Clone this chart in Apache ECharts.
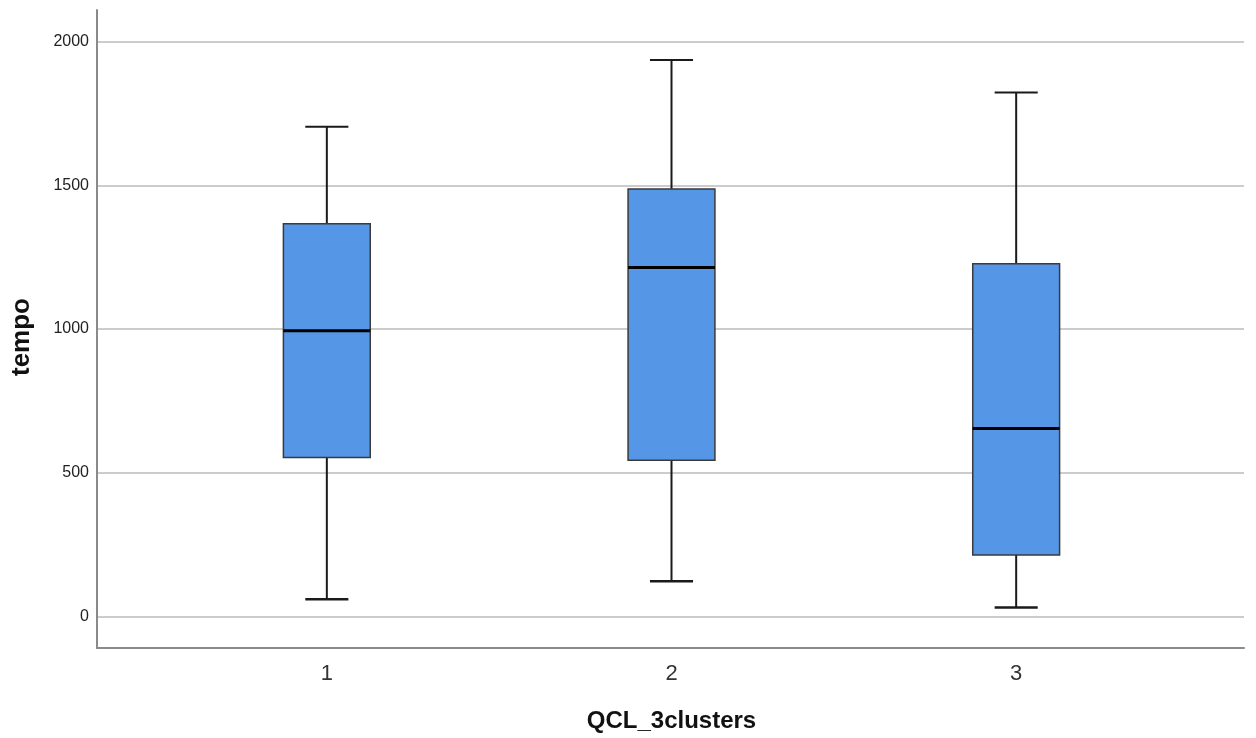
<!DOCTYPE html>
<html>
<head>
<meta charset="utf-8">
<script src="https://cdn.jsdelivr.net/npm/echarts@6/dist/echarts.min.js"></script>
<style>
html,body{margin:0;padding:0;background:#fff;}
#main{width:1256px;height:738px;}
</style>
</head>
<body>
<div id="main"></div>
<script>
const categories = ['1', '2', '3'];
const whiskerMin = [60, 122, 31];
const q1 = [553, 543, 214];
const median = [994, 1214, 654];
const q3 = [1366, 1487, 1227];
const whiskerMax = [1704, 1936, 1823];
const yMin = -110;
const yMax = 2110;

const boxData = categories.map((c, i) => [i, whiskerMin[i], q1[i], median[i], q3[i], whiskerMax[i]]);

const chart = echarts.init(document.getElementById('main'));
chart.setOption({
  animation: false,
  backgroundColor: '#ffffff',
  grid: [
    { left: 97, right: 12, top: 10, bottom: 90, containLabel: false, outerBoundsMode: 'none' },
    { left: 154.5, right: 67.5, top: 10, bottom: 90, containLabel: false, outerBoundsMode: 'none' }
  ],
  xAxis: [
    {
      gridIndex: 0, type: 'value', min: 0, max: 1,
      axisLine: { show: true, onZero: false, lineStyle: { color: '#8a8a8a', width: 2 } },
      axisTick: { show: false }, axisLabel: { show: false }, splitLine: { show: false }
    },
    {
      gridIndex: 1, type: 'category', data: categories, boundaryGap: true,
      axisLine: { show: false, onZero: false }, axisTick: { show: false },
      axisLabel: { show: true, margin: 15, fontSize: 22, color: '#333', fontFamily: 'Liberation Sans, Arial, sans-serif' },
      name: 'QCL_3clusters', nameLocation: 'middle', nameGap: 61,
      nameTextStyle: { fontSize: 24, fontWeight: 'bold', color: '#111', fontFamily: 'Liberation Sans, Arial, sans-serif' }
    }
  ],
  yAxis: [
    {
      gridIndex: 0, type: 'value', min: yMin, max: yMax, splitNumber: 5,
      axisLine: { show: true, onZero: false, lineStyle: { color: '#8a8a8a', width: 2 } },
      axisTick: { show: false },
      axisLabel: { margin: 8, fontSize: 16, color: '#222', showMinLabel: false, showMaxLabel: false,
        fontFamily: 'Liberation Sans, Arial, sans-serif', formatter: function (v) { return String(v); } },
      splitLine: { show: true, showMinLine: false, showMaxLine: false, lineStyle: { color: '#cccccc', width: 2 } },
      name: 'tempo', nameLocation: 'middle', nameGap: 62, nameRotate: 90,
      nameTextStyle: { fontSize: 26, fontWeight: 'bold', color: '#111', padding: [0, 16, 0, 0], fontFamily: 'Liberation Sans, Arial, sans-serif' }
    },
    {
      gridIndex: 1, type: 'value', min: yMin, max: yMax, show: false,
      splitLine: { show: false }
    }
  ],
  series: [
    {
      type: 'custom',
      xAxisIndex: 1, yAxisIndex: 1,
      data: boxData,
      encode: { x: 0, y: [1, 2, 3, 4, 5] },
      renderItem: function (params, api) {
        const idx = api.value(0);
        const pMin = api.coord([idx, api.value(1)]);
        const pQ1 = api.coord([idx, api.value(2)]);
        const pMed = api.coord([idx, api.value(3)]);
        const pQ3 = api.coord([idx, api.value(4)]);
        const pMax = api.coord([idx, api.value(5)]);
        const band = api.size([1, 0])[0];
        const hw = band * 0.126;
        const cw = band * 0.0625;
        const cx = pMed[0];
        const wStyle = { stroke: '#1a1a1a', lineWidth: 2 };
        return {
          type: 'group',
          children: [
            { type: 'line', shape: { x1: cx, y1: pMax[1], x2: cx, y2: pQ3[1] }, style: wStyle },
            { type: 'line', shape: { x1: cx, y1: pQ1[1], x2: cx, y2: pMin[1] }, style: wStyle },
            { type: 'line', shape: { x1: cx - cw, y1: pMax[1], x2: cx + cw, y2: pMax[1] }, style: wStyle },
            { type: 'line', shape: { x1: cx - cw, y1: pMin[1], x2: cx + cw, y2: pMin[1] }, style: { stroke: '#1a1a1a', lineWidth: 2.5 } },
            { type: 'rect', shape: { x: cx - hw, y: pQ3[1], width: hw * 2, height: pQ1[1] - pQ3[1] },
              style: { fill: '#5596e6', stroke: '#3a3a3a', lineWidth: 1.5 } },
            { type: 'line', shape: { x1: cx - hw, y1: pMed[1], x2: cx + hw, y2: pMed[1] }, style: { stroke: '#000', lineWidth: 3 } }
          ]
        };
      }
    }
  ]
});
</script>
</body>
</html>
